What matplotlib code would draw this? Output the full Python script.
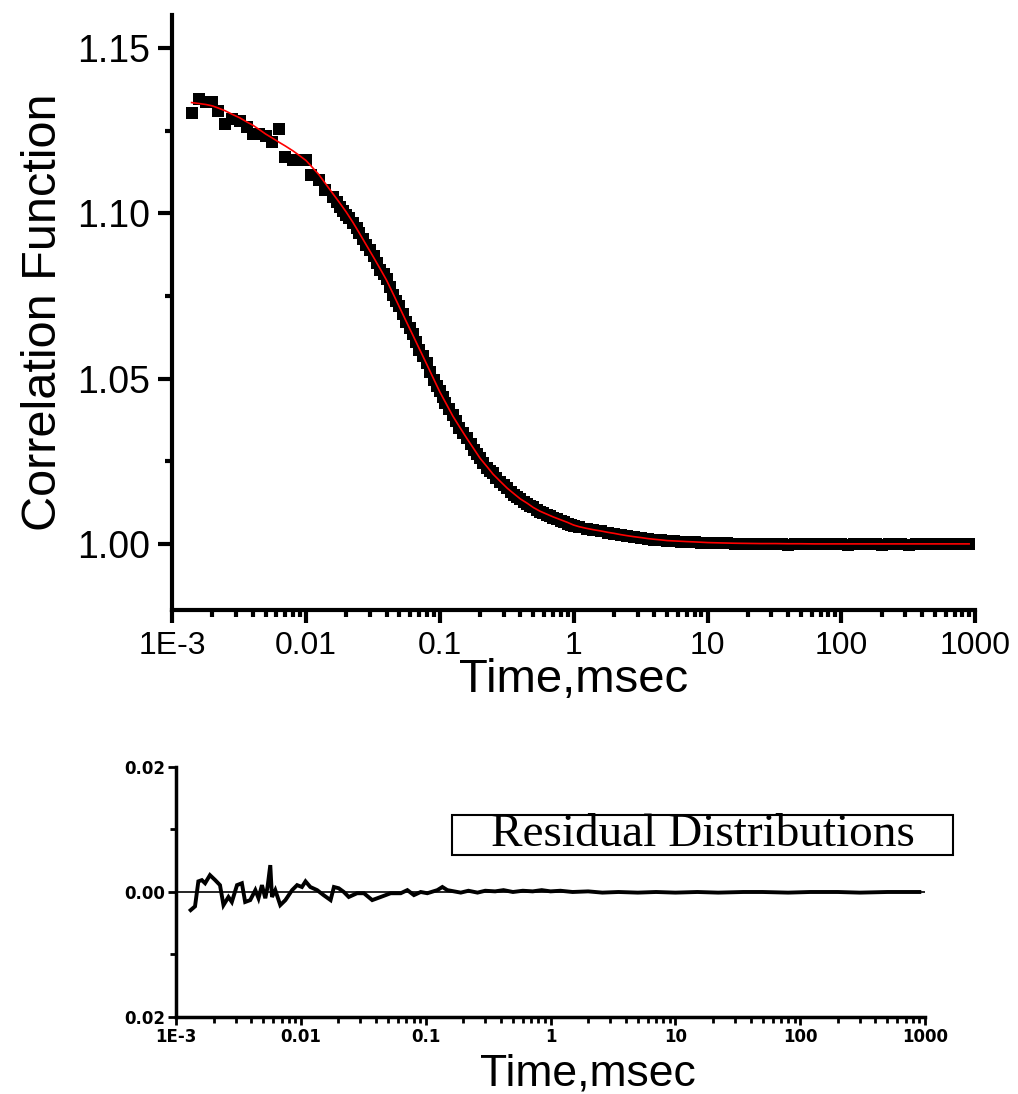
import numpy as np
import matplotlib
matplotlib.use('Agg')
import matplotlib.pyplot as plt
from matplotlib.ticker import FixedLocator, FixedFormatter, LogLocator, NullFormatter
from matplotlib.patches import Rectangle

plt.rcParams['font.family'] = ['Liberation Sans', 'DejaVu Sans']

# lag times (ms) of the measured points
t_data = [0.0014, 0.0016, 0.0018, 0.002, 0.0022, 0.0025, 0.0028, 0.0032, 0.0036, 0.004,
          0.0045, 0.005, 0.0056, 0.0063, 0.007, 0.008, 0.009, 0.01, 0.011, 0.0125,
          0.014, 0.016, 0.017, 0.018, 0.019, 0.02, 0.021, 0.0225, 0.024, 0.025,
          0.0265, 0.028, 0.030, 0.032, 0.034, 0.036, 0.038, 0.04, 0.0425, 0.045,
          0.0475, 0.05, 0.053, 0.056, 0.0595, 0.063, 0.0665, 0.07, 0.075, 0.08,
          0.085, 0.09, 0.095, 0.1, 0.105, 0.11, 0.118, 0.125, 0.132, 0.14,
          0.15, 0.16, 0.17, 0.18, 0.19, 0.2, 0.212, 0.225, 0.237, 0.25,
          0.265, 0.28, 0.30, 0.32, 0.34, 0.36, 0.38, 0.4, 0.425, 0.45,
          0.475, 0.5, 0.53, 0.56, 0.595, 0.63, 0.665, 0.7, 0.75, 0.8,
          0.85, 0.9, 0.95, 1.0, 1.1, 1.25, 1.4, 1.6, 1.8, 2.0,
          2.25, 2.5, 2.8, 3.2, 3.6, 4.0, 4.5, 5.0, 5.6, 6.3,
          7.0, 8.0, 9.0, 10, 11, 12.5, 14, 16, 18, 20,
          22.5, 25, 28, 32, 36, 40, 45, 50, 56, 63,
          70, 80, 90, 100, 112, 125, 140, 160, 180, 200,
          225, 250, 280, 320, 360, 400, 450, 500, 560, 630,
          700, 800, 900]

# measured correlation function
g_data = [1.1303, 1.1345, 1.1338, 1.1336, 1.1310, 1.1270, 1.1285, 1.1280, 1.1260, 1.1240,
          1.1240, 1.1235, 1.1215, 1.1255, 1.1170, 1.1160, 1.1160, 1.1160, 1.1115, 1.1100,
          1.1070, 1.1050, 1.1035, 1.1020, 1.1008, 1.0995, 1.0985, 1.0970, 1.0955, 1.0940,
          1.0922, 1.0905, 1.0888, 1.0870, 1.0850, 1.0830, 1.0815, 1.0800, 1.0776, 1.0752,
          1.0736, 1.0720, 1.0695, 1.0670, 1.0652, 1.0635, 1.0611, 1.0588, 1.0567, 1.0547,
          1.0520, 1.0495, 1.0479, 1.0462, 1.0444, 1.0425, 1.0408, 1.0390, 1.0371, 1.0352,
          1.0336, 1.0320, 1.0302, 1.0284, 1.0272, 1.0260, 1.0246, 1.0231, 1.0222, 1.0213,
          1.0200, 1.0188, 1.0179, 1.0169, 1.0158, 1.0148, 1.0143, 1.0137, 1.0128, 1.0120,
          1.0116, 1.0111, 1.0104, 1.0097, 1.0092, 1.0088, 1.0083, 1.0078, 1.0074, 1.0070,
          1.0065, 1.0060, 1.0058, 1.0055, 1.0050, 1.0046, 1.0042, 1.0038, 1.0034, 1.0031,
          1.0027, 1.0024, 1.0021, 1.0018, 1.0015, 1.0013, 1.0011, 1.0010, 1.0008, 1.0007,
          1.0006, 1.0005, 1.0004, 1.0003, 1.0003, 1.0002, 1.0002, 1.0001, 1.0001, 1.0000,
          1.0000, 0.9999, 1.0000, 0.9999, 1.0000, 0.9998, 1.0000, 0.9999, 1.0000, 0.9999,
          1.0000, 0.9999, 1.0000, 0.9999, 0.9998, 1.0000, 0.9999, 1.0000, 0.9999, 0.9998,
          0.9999, 1.0000, 0.9999, 0.9998, 1.0000, 0.9999, 1.0000, 0.9999, 1.0000, 0.9999,
          1.0000, 0.9999, 1.0000]

# fitted curve (red)
t_fit = [0.0014, 0.0016, 0.0018, 0.002, 0.0022, 0.0025, 0.0028, 0.0032, 0.0036, 0.004,
         0.0045, 0.005, 0.0056, 0.0063, 0.007, 0.008, 0.009, 0.01, 0.011, 0.0125,
         0.014, 0.016, 0.018, 0.02, 0.0225, 0.025, 0.028, 0.032, 0.036, 0.04,
         0.045, 0.05, 0.056, 0.063, 0.07, 0.08, 0.09, 0.1, 0.11, 0.125,
         0.14, 0.16, 0.18, 0.2, 0.225, 0.25, 0.28, 0.32, 0.36, 0.4,
         0.45, 0.5, 0.56, 0.63, 0.7, 0.8, 0.9, 1.0, 1.1, 1.25,
         1.4, 1.6, 1.8, 2.0, 2.25, 2.5, 2.8, 3.2, 3.6, 4.0,
         4.5, 5.0, 5.6, 6.3, 7.0, 8.0, 9.0, 10, 12.5, 16,
         20, 25, 32, 40, 50, 63, 100, 200, 400, 900]
g_fit = [1.1335, 1.1332, 1.1329, 1.1325, 1.1319, 1.1310, 1.1300, 1.1289, 1.1277, 1.1267,
         1.1253, 1.1240, 1.1228, 1.1215, 1.1204, 1.1189, 1.1174, 1.1160, 1.1142, 1.1117,
         1.1090, 1.1058, 1.1030, 1.1004, 1.0972, 1.0941, 1.0907, 1.0867, 1.0831, 1.0798,
         1.0755, 1.0716, 1.0674, 1.0631, 1.0592, 1.0543, 1.0499, 1.0460, 1.0429, 1.0387,
         1.0355, 1.0318, 1.0287, 1.0259, 1.0234, 1.0211, 1.0191, 1.0168, 1.0151, 1.0136,
         1.0123, 1.0110, 1.0099, 1.0090, 1.0082, 1.0073, 1.0065, 1.0057, 1.0052, 1.0047,
         1.0043, 1.0039, 1.0035, 1.0032, 1.0028, 1.0025, 1.0022, 1.0019, 1.0016, 1.0014,
         1.0012, 1.0010, 1.0009, 1.0008, 1.0007, 1.0006, 1.0005, 1.0004, 1.0003, 1.0002,
         1.00015, 1.0001, 1.0001, 1.00005, 1.00005, 1.0, 1.0, 1.0, 1.0, 1.0]

# residuals (lower panel)
t_res = [0.00131, 0.00142, 0.00151, 0.00161, 0.00171, 0.00187, 0.00206, 0.00225, 0.0024, 0.00263,
         0.0028, 0.00308, 0.00337, 0.00358, 0.00393, 0.00432, 0.00458, 0.00488, 0.00519, 0.00541,
         0.00569, 0.00587, 0.00624, 0.00684, 0.00752, 0.00851, 0.00933, 0.0102, 0.0109, 0.0119,
         0.0135, 0.0152, 0.0173, 0.0184, 0.0201, 0.0221, 0.0242, 0.0282, 0.032, 0.0373,
         0.0436, 0.0524, 0.0631, 0.0713, 0.0805, 0.0912, 0.103, 0.124, 0.136, 0.149,
         0.191, 0.22, 0.26, 0.3, 0.36, 0.42, 0.5, 0.6, 0.72, 0.85,
         1.0, 1.2, 1.5, 2.0, 2.6, 3.5, 5, 7, 10, 15,
         22, 35, 50, 80, 120, 200, 300, 500, 900]
resid = [-0.0029, -0.0023, 0.0017, 0.0019, 0.0014, 0.0027, 0.0019, 0.0011, -0.0021, -0.0008,
         -0.0016, 0.0011, 0.0014, -0.0016, -0.0013, 0.0003, -0.0010, 0.0011, -0.0010, 0.0008,
         0.0043, -0.0008, 0.0003, -0.0021, -0.0013, 0.0003, 0.0011, 0.0008, 0.0017, 0.0008,
         0.0003, -0.0005, -0.0013, 0.0008, 0.0006, 0.0000, -0.0008, -0.0002, -0.0002, -0.0013,
         -0.0008, -0.0002, -0.0002, 0.0003, -0.0005, 0.0000, -0.0002, 0.0003, 0.0008, 0.0003,
         -0.0001, 0.0002, -0.0001, 0.0002, 0.0001, 0.0003, 0.0000, 0.0002, 0.0001, 0.0003,
         0.0001, 0.0002, 0.0000, 0.0001, -0.0001, 0.0000, -0.0001, 0.0000, -0.0001, 0.0000,
         -0.0001, 0.0000, 0.0000, -0.0001, 0.0000, 0.0000, -0.0001, 0.0000, 0.0000]

xtick_vals = [1e-3, 1e-2, 1e-1, 1, 10, 100, 1000]
xtick_labels = ['1E-3', '0.01', '0.1', '1', '10', '100', '1000']

fig = plt.figure(figsize=(10.18, 10.94), dpi=100)

# ---- top panel: correlation function
ax = fig.add_axes([0.169, 0.4424, 0.789, 0.5439])
ax.plot(t_data, g_data, 's', color='black', ms=8.5, mew=0)
ax.plot(t_fit, g_fit, '-', color='red', lw=1.2)
ax.set_xscale('log')
ax.set_xlim(1e-3, 1e3)
ax.set_ylim(0.98, 1.16)
for s in ['top', 'right']:
    ax.spines[s].set_visible(False)
for s in ['left', 'bottom']:
    ax.spines[s].set_linewidth(3)
ax.xaxis.set_major_locator(FixedLocator(xtick_vals))
ax.xaxis.set_major_formatter(FixedFormatter(xtick_labels))
ax.xaxis.set_minor_locator(LogLocator(base=10, subs=np.arange(2, 10), numticks=20))
ax.xaxis.set_minor_formatter(NullFormatter())
ax.set_yticks([1.00, 1.05, 1.10, 1.15])
ax.set_yticklabels(['1.00', '1.05', '1.10', '1.15'])
ax.set_yticks([1.025, 1.075, 1.125], minor=True)
ax.tick_params(axis='both', which='major', direction='out', width=3, length=9, labelsize=23, pad=6)
ax.tick_params(axis='both', which='minor', direction='out', width=3, length=5)
ax.tick_params(axis='y', which='major', length=10, labelsize=27)
ax.set_xlabel('Time,msec', fontsize=34, labelpad=-2)
ax.set_ylabel('Correlation Function', fontsize=35, labelpad=8)

# ---- bottom panel: residuals
ax2 = fig.add_axes([0.1729, 0.0704, 0.7358, 0.2285])
ax2.plot([1e-3, 1e3], [0, 0], color='black', lw=1.2)
ax2.plot(t_res, resid, color='black', lw=2.8, solid_joinstyle='miter')
ax2.set_xscale('log')
ax2.set_xlim(1e-3, 1e3)
ax2.set_ylim(-0.02, 0.02)
for s in ['top', 'right']:
    ax2.spines[s].set_visible(False)
for s in ['left', 'bottom']:
    ax2.spines[s].set_linewidth(2.5)
ax2.xaxis.set_major_locator(FixedLocator(xtick_vals))
ax2.xaxis.set_major_formatter(FixedFormatter(xtick_labels))
ax2.xaxis.set_minor_locator(LogLocator(base=10, subs=np.arange(2, 10), numticks=20))
ax2.xaxis.set_minor_formatter(NullFormatter())
ax2.set_yticks([-0.02, 0.0, 0.02])
ax2.set_yticklabels(['0.02', '0.00', '0.02'])
ax2.set_yticks([-0.01, 0.01], minor=True)
ax2.tick_params(axis='both', which='major', direction='out', width=2, length=6, pad=2)
ax2.tick_params(axis='both', which='minor', direction='out', width=2, length=4)
for lab in ax2.get_xticklabels() + ax2.get_yticklabels():
    lab.set_family('DejaVu Sans')
    lab.set_fontsize(12)
    lab.set_fontweight('bold')
ax2.set_xlabel('Time,msec', fontsize=32)
ax2.xaxis.set_label_coords(0.55, -0.145, transform=ax2.transAxes)
ax2.xaxis.label.set_verticalalignment('top')

ax2.add_patch(Rectangle((0.3685, 0.648), 0.6685, 0.16, transform=ax2.transAxes,
                        fill=False, edgecolor='black', lw=1.5, clip_on=False))
ax2.text(0.703, 0.728, 'Residual Distributions', transform=ax2.transAxes,
         ha='center', va='center', fontsize=34, family='Liberation Serif')

fig.savefig('out.png', dpi=100)
